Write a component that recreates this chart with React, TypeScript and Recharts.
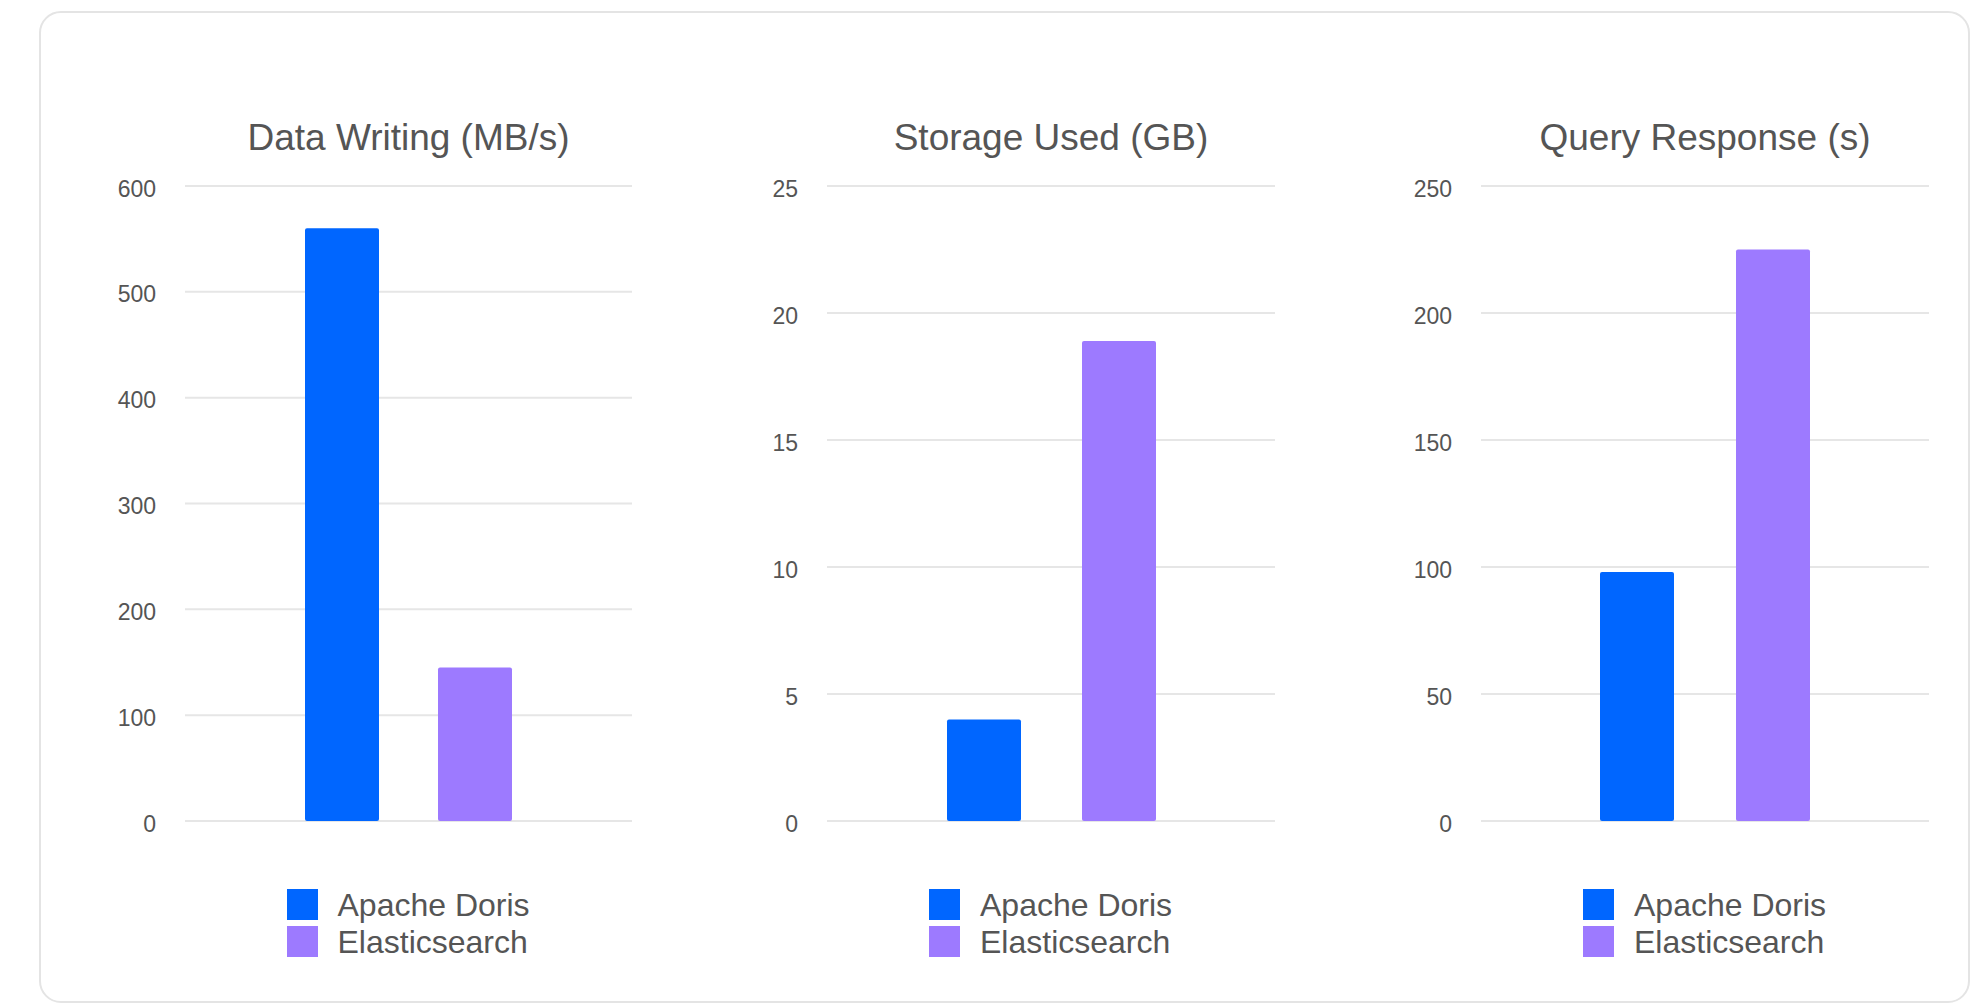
import React from 'react';
import { BarChart, Bar, XAxis, YAxis, CartesianGrid } from 'recharts';

const chartTitles = ['Data Writing (MB/s)', 'Storage Used (GB)', 'Query Response (s)'];
const seriesNames = ['Apache Doris', 'Elasticsearch'];
const seriesColors = ['#0066ff', '#9d7aff'];
const dorisValues = [560, 4, 98];
const elasticValues = [145, 18.9, 225];
const yTicks = [
  [0, 100, 200, 300, 400, 500, 600],
  [0, 5, 10, 15, 20, 25],
  [0, 50, 100, 150, 200, 250],
];

// layout of each panel (plot area in page pixels)
const panels = [
  { plotLeft: 185, plotRight: 632, barGap: 59 },
  { plotLeft: 827, plotRight: 1275, barGap: 61 },
  { plotLeft: 1481, plotRight: 1929, barGap: 62 },
];

const FONT = '"Liberation Sans", Arial, Helvetica, sans-serif';
const TEXT = '#555555';
const GRID = '#e6e6e6';
const AXIS_W = 100;
const PLOT_TOP = 186;
const PLOT_BOTTOM = 821;
const MARGIN_T = 20;
const MARGIN_B = 20;

function Panel({ index }: { index: number }) {
  const p = panels[index];
  const ticks = yTicks[index];
  const data = [
    { name: chartTitles[index], doris: dorisValues[index], es: elasticValues[index] },
  ];
  const plotW = p.plotRight - p.plotLeft;
  const width = plotW + AXIS_W + 6;
  const height = PLOT_BOTTOM - PLOT_TOP + MARGIN_T + MARGIN_B;
  const center = (p.plotLeft + p.plotRight) / 2;
  return (
    <>
      <div
        style={{
          position: 'absolute',
          left: center - 300,
          width: 600,
          top: 119,
          textAlign: 'center',
          fontFamily: FONT,
          fontSize: 37,
          lineHeight: '37px',
          color: TEXT,
          whiteSpace: 'nowrap',
        }}
      >
        {chartTitles[index]}
      </div>
      <div style={{ position: 'absolute', left: p.plotLeft - AXIS_W, top: PLOT_TOP - MARGIN_T }}>
        <BarChart
          width={width}
          height={height}
          data={data}
          margin={{ top: MARGIN_T, bottom: MARGIN_B, left: 0, right: 6 }}
          barGap={p.barGap}
        >
          <CartesianGrid vertical={false} stroke={GRID} strokeWidth={2} />
          <XAxis dataKey="name" hide />
          <YAxis
            width={AXIS_W}
            domain={[ticks[0], ticks[ticks.length - 1]]}
            ticks={ticks}
            interval={0}
            axisLine={false}
            tickLine={false}
            tickSize={6}
            tickMargin={23}
            tick={{ fill: TEXT, fontSize: 23, fontFamily: FONT, dy: 2.5 }}
          />
          <Bar dataKey="doris" name={seriesNames[0]} fill={seriesColors[0]} barSize={74} radius={2} isAnimationActive={false} />
          <Bar dataKey="es" name={seriesNames[1]} fill={seriesColors[1]} barSize={74} radius={2} isAnimationActive={false} />
        </BarChart>
      </div>
      <div style={{ position: 'absolute', left: center - 122, top: 889 }}>
        {seriesNames.map((n, i) => (
          <div key={n} style={{ position: 'absolute', left: 0, top: i * 37.3, whiteSpace: 'nowrap' }}>
            <div
              style={{
                position: 'absolute',
                left: 0,
                top: 0,
                width: 31,
                height: 31,
                background: seriesColors[i],
              }}
            />
            <div
              style={{
                position: 'absolute',
                left: 51,
                top: -0.5,
                fontFamily: FONT,
                fontSize: 32,
                lineHeight: '32px',
                color: TEXT,
              }}
            >
              {n}
            </div>
          </div>
        ))}
      </div>
    </>
  );
}

export default function App() {
  return (
    <div style={{ position: 'absolute', left: 0, top: 0, width: 1973, height: 1003, background: '#ffffff', overflow: 'hidden' }}>
      <div
        style={{
          position: 'absolute',
          left: 39,
          top: 11,
          width: 1931,
          height: 992,
          boxSizing: 'border-box',
          border: '2.5px solid #e4e4e4',
          borderRadius: 22,
        }}
      />
      <Panel index={0} />
      <Panel index={1} />
      <Panel index={2} />
    </div>
  );
}
